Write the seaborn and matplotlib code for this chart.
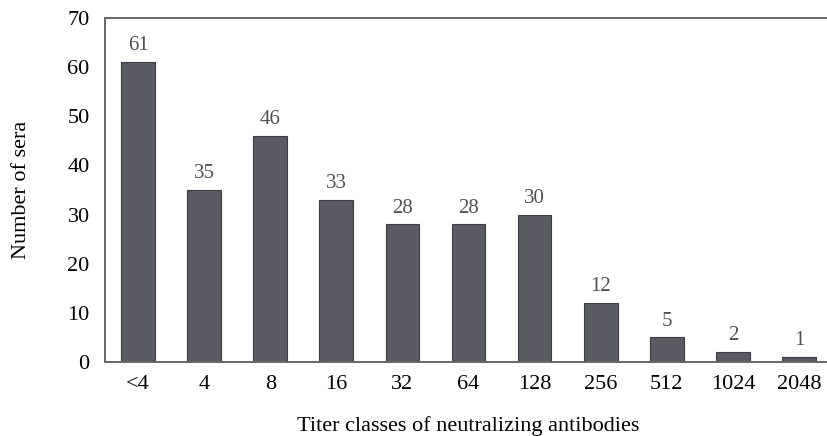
import matplotlib
matplotlib.use("Agg")
import matplotlib.pyplot as plt
import seaborn as sns
import pandas as pd

categories = ["<4", "4", "8", "16", "32", "64", "128", "256", "512", "1024", "2048"]
counts = [61, 35, 46, 33, 28, 28, 30, 12, 5, 2, 1]

sns.set_theme(style="white")
plt.rcParams['font.family'] = ['Liberation Serif', 'DejaVu Serif']

df = pd.DataFrame({"titer": categories, "n": counts})

fig = plt.figure(figsize=(8.27, 4.36), dpi=100)
W, H = 827, 436
left, right, top, bottom = 105, 832, 18, 362
ax = fig.add_axes([left / W, 1 - bottom / H, (right - left) / W, (bottom - top) / H])

sns.barplot(data=df, x="titer", y="n", order=categories, color="#5a5a63",
            width=0.51, saturation=1, edgecolor="#3a3a40", linewidth=0.8, ax=ax)

for i, v in enumerate(counts):
    ax.text(i, v + 1.4, str(v), ha="center", va="bottom", fontsize=15, color="#505050")

ax.set_ylim(0, 70)
ax.set_xlim(-0.5, 10.5)
ax.set_yticks(range(0, 71, 10))
ax.tick_params(axis="both", length=0, labelsize=16, colors="black")
ax.tick_params(axis="x", pad=9)
ax.tick_params(axis="y", pad=11)
ax.set_xlabel("Titer classes of neutralizing antibodies", fontsize=16, labelpad=16, color="black")
ax.set_ylabel("Number of sera", fontsize=16, labelpad=26, color="black")

for s in ["left", "top", "bottom"]:
    ax.spines[s].set_visible(True)
    ax.spines[s].set_color("#666666")
    ax.spines[s].set_linewidth(1.4)
ax.spines["right"].set_visible(False)

fig.savefig("out.png", dpi=100)
